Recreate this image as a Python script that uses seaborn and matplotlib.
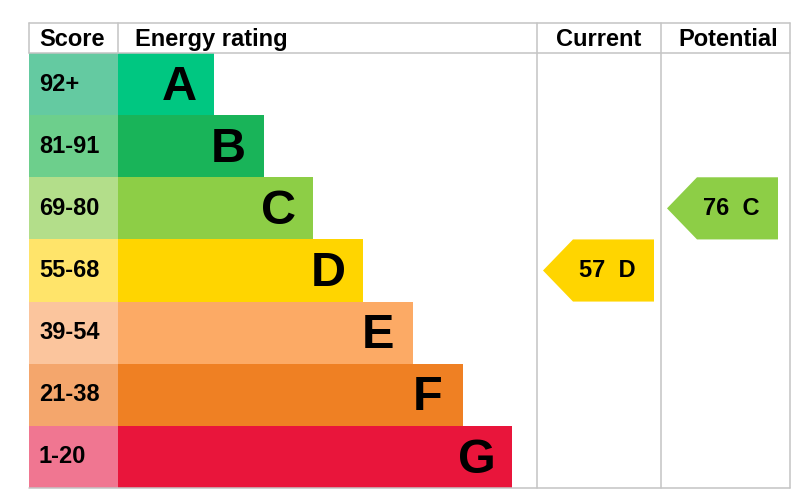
import numpy as np
import seaborn as sns
import matplotlib.pyplot as plt
from matplotlib.patches import Polygon

# EPC bands, top (best) to bottom (worst)
bands = ['A', 'B', 'C', 'D', 'E', 'F', 'G']
score_ranges = ['92+', '81-91', '69-80', '55-68', '39-54', '21-38', '1-20']
band_min = [92, 81, 69, 55, 39, 21, 1]
bar_colours = ['#00c781', '#19b459', '#8dce46', '#ffd500', '#fcaa65', '#ef8023', '#e9153b']
score_colours = ['#64caa1', '#6dcf8c', '#b3de8a', '#ffe46a', '#fbc59d', '#f4a66c', '#f07691']
columns = ['Current', 'Potential']
ratings = [57, 76]

sns.set_style('white')
plt.rcParams['font.family'] = ['Liberation Sans', 'DejaVu Sans']
plt.rcParams['text.color'] = 'black'

# layout in pixels (x) and rows (y)
ROW_PX = 435 / 7
def row_y(px):
    return -0.5 + (px - 53) / ROW_PX

score_x0, bar_x0 = 29, 118
col_edges = [537, 661, 790]
grid_c = '#c4c4c4'

fig = plt.figure(figsize=(8, 4.98), dpi=100)
ax = fig.add_axes([0, 0, 1, 1])

lengths = 96 + 49.7 * np.arange(len(bands))
sns.barplot(x=lengths, y=bands, hue=bands, palette=bar_colours, orient='h',
            width=1.0, saturation=1, legend=False, linewidth=0, ax=ax)
for p in ax.patches:
    p.set_x(bar_x0)

ax.barh(np.arange(len(bands)), bar_x0 - score_x0, left=score_x0, height=1.0,
        color=score_colours, linewidth=0)

ax.set_xlim(0, 800)
ax.set_ylim(row_y(498), row_y(0))
ax.axis('off')

for i, (b, s) in enumerate(zip(bands, score_ranges)):
    ax.text(39, i, s, fontsize=17, fontweight='bold', ha='left', va='center')
    ax.text(bar_x0 + lengths[i] - 35, i + 0.05, b, fontsize=35, fontweight='bold',
            ha='center', va='center')

# header
hy = row_y(39)
ax.text(39, hy, 'Score', fontsize=17, fontweight='bold', va='center')
ax.text(135, hy, 'Energy rating', fontsize=17, fontweight='bold', va='center')
for k, name in enumerate(columns):
    cx = (col_edges[k] + col_edges[k + 1]) / 2 + (3 if k else 0)
    ax.text(cx, hy, name, fontsize=17, fontweight='bold', ha='center', va='center')

# grid lines
top, hdr, bot = row_y(23), row_y(53), row_y(488)
lw = 1.1
for y in (top, hdr, bot):
    ax.plot([score_x0, col_edges[-1]], [y, y], color=grid_c, lw=lw, clip_on=False)
for x in (score_x0, bar_x0):
    ax.plot([x, x], [top, hdr], color=grid_c, lw=lw)
for x in col_edges:
    ax.plot([x, x], [top, bot], color=grid_c, lw=lw)

# rating arrows
for k, val in enumerate(ratings):
    r = next(i for i, m in enumerate(band_min) if val >= m)
    tip = col_edges[k] + 6
    right = tip + 111
    pts = [(tip, r), (tip + 30, r - 0.5), (right, r - 0.5), (right, r + 0.5), (tip + 30, r + 0.5)]
    ax.add_patch(Polygon(pts, closed=True, facecolor=bar_colours[r], edgecolor='none'))
    ax.text((tip + 30 + right) / 2 - 6, r, f'{val}  {bands[r]}', fontsize=17,
            fontweight='bold', ha='center', va='center')

fig.savefig('out.png', dpi=100)
